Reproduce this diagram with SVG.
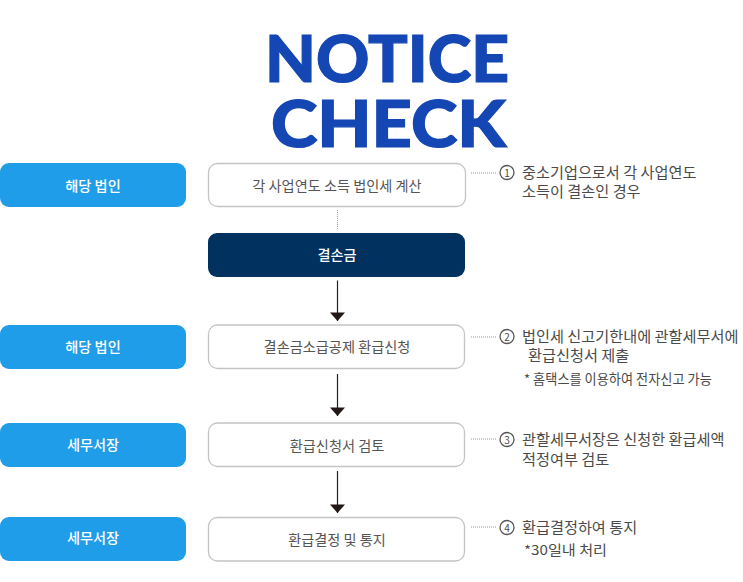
<svg xmlns="http://www.w3.org/2000/svg" width="743" height="582" viewBox="0 0 743 582">
<style>
text{font-family:"Noto Sans CJK KR","Noto Sans",sans-serif}
.t{font-family:Lato,Inter,sans-serif;font-size:65px;font-weight:900;fill:#1446b4;stroke:#1446b4;stroke-width:1.200;text-anchor:middle}
.b{fill:#1f9de8}
.w{fill:#fff;stroke:#c4c4c4;stroke-width:1.3}
.n{fill:#00315f}
.lw{fill:#fff;font-size:14.2px;text-anchor:middle;font-weight:500}
.ld{fill:#555;font-size:14.2px;text-anchor:middle}
.d{fill:#4a4a4a;font-size:15.200px}
.s{fill:#4a4a4a;font-size:13.200px}
.c{fill:none;stroke:#555;stroke-width:1.3}
.cn{fill:#4a4a4a;font-size:10px;text-anchor:middle}
.dot{stroke:#999;stroke-width:1;stroke-dasharray:1 1;fill:none}
.ar{stroke:#222;stroke-width:1.2;fill:none;marker-end:url(#a)}
</style>
<defs><marker id="a" markerUnits="userSpaceOnUse" markerWidth="16" markerHeight="10" refX="8" refY="9" orient="0"><path d="M0.5 0.5H15.5L8 9Z" fill="#231815"/></marker></defs>
<g id="title"><text class="t" x="387" y="82" textLength="244" lengthAdjust="spacingAndGlyphs">NOTICE</text><text class="t" x="388.500" y="147" textLength="235" lengthAdjust="spacingAndGlyphs">CHECK</text></g>
<g id="connectors">
<path class="dot" d="M337.500 210V230"/>
<path class="ar" d="M337.500 280.500V321"/>
<path class="ar" d="M337.500 374V416"/>
<path class="ar" d="M337.500 471V513"/>
<path class="dot" d="M471 173H497"/><path class="dot" d="M471 337H497"/><path class="dot" d="M471 439H497"/><path class="dot" d="M471 527H497"/>
</g>
<g id="actor1"><rect class="b" x="0" y="163" width="186" height="44" rx="9"/><text class="lw" x="93" y="191">해당 법인</text></g>
<g id="actor2"><rect class="b" x="0" y="325" width="186" height="44" rx="9"/><text class="lw" x="93" y="352">해당 법인</text></g>
<g id="actor3"><rect class="b" x="0" y="423" width="186" height="44" rx="9"/><text class="lw" x="93" y="450">세무서장</text></g>
<g id="actor4"><rect class="b" x="0" y="517" width="186" height="44" rx="9"/><text class="lw" x="93" y="543">세무서장</text></g>
<g id="step1"><rect class="w" x="208.500" y="163.500" width="257" height="43" rx="9"/><text class="ld" x="337" y="191">각 사업연도 소득 법인세 계산</text></g>
<g id="step2"><rect class="n" x="208" y="233" width="257" height="44" rx="9"/><text class="lw" x="337" y="260">결손금</text></g>
<g id="step3"><rect class="w" x="208.500" y="325" width="256" height="43.500" rx="9"/><text class="ld" x="337" y="352">결손금소급공제 환급신청</text></g>
<g id="step4"><rect class="w" x="208.500" y="423" width="256" height="43.500" rx="9"/><text class="ld" x="337" y="451">환급신청서 검토</text></g>
<g id="step5"><rect class="w" x="208.500" y="517.500" width="256" height="43.500" rx="9"/><text class="ld" x="337" y="545">환급결정 및 통지</text></g>
<g id="note1"><circle class="c" cx="507" cy="172.500" r="7"/><text class="cn" x="507" y="176.500">1</text><text class="d" x="522" y="178">중소기업으로서 각 사업연도</text><text class="d" x="522" y="197">소득이 결손인 경우</text></g>
<g id="note2"><circle class="c" cx="507" cy="336.500" r="7"/><text class="cn" x="507" y="340.500">2</text><text class="d" x="522" y="342">법인세 신고기한내에 관할세무서에</text><text class="d" x="528" y="361">환급신청서 제출</text><text class="s" x="524" y="384">* 홈택스를 이용하여 전자신고 가능</text></g>
<g id="note3"><circle class="c" cx="507" cy="439.500" r="7"/><text class="cn" x="507" y="443.500">3</text><text class="d" x="522" y="445">관할세무서장은 신청한 환급세액</text><text class="d" x="522" y="465">적정여부 검토</text></g>
<g id="note4"><circle class="c" cx="507" cy="527.500" r="7"/><text class="cn" x="507" y="531.500">4</text><text class="d" x="522" y="533">환급결정하여 통지</text><text class="s" x="524" y="555" textLength="83" lengthAdjust="spacingAndGlyphs">*30일내 처리</text></g>
</svg>
